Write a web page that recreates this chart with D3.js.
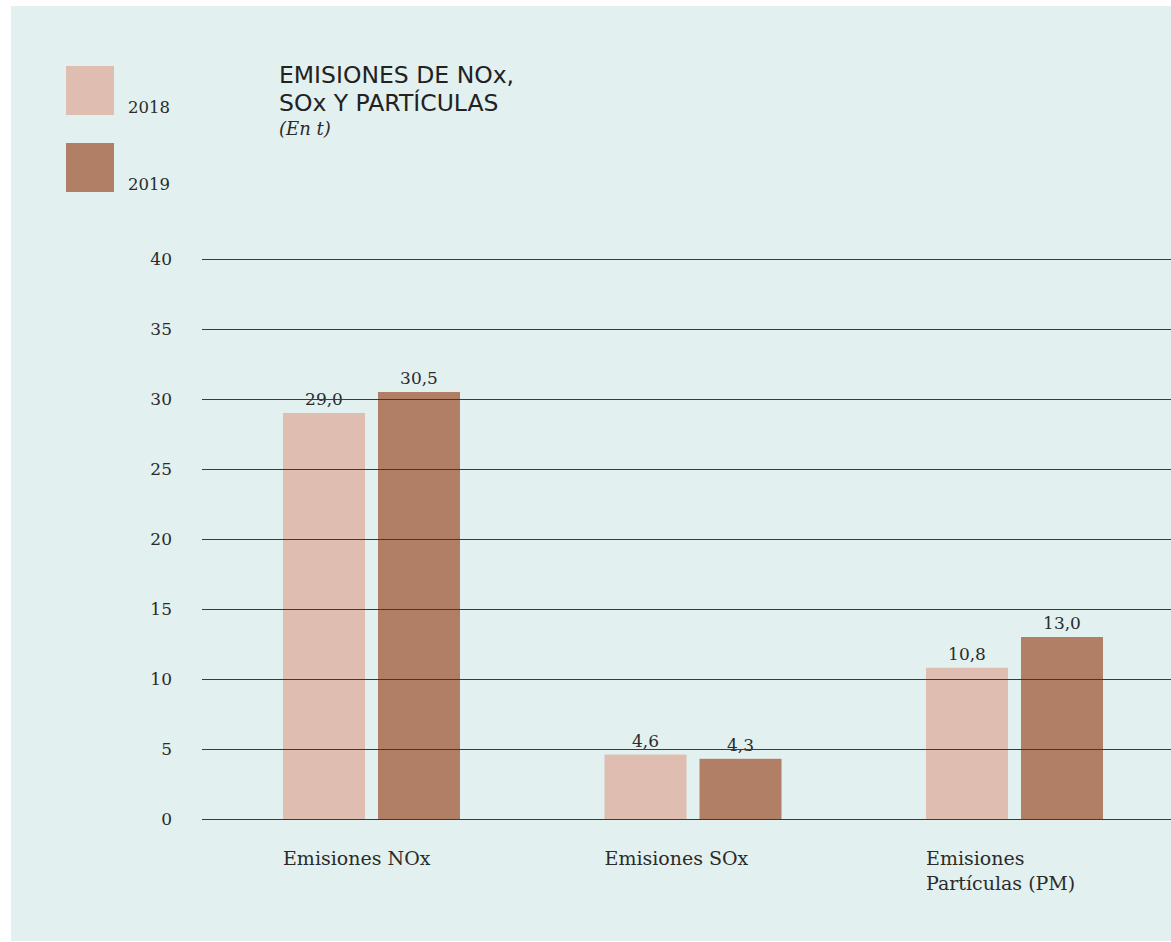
<!DOCTYPE html>
<html>
<head>
<meta charset="utf-8">
<script src="https://cdn.jsdelivr.net/npm/d3@7"></script>
<style>
  html, body { margin: 0; padding: 0; background: #ffffff; }
  svg { display: block; }
  .serif { font-family: "DejaVu Serif", serif; fill: #2b2b2b; }
  .title { font-family: "DejaVu Sans", sans-serif; fill: #222222; }
</style>
</head>
<body>
<svg id="chart" width="1171" height="942"></svg>
<script>
// Emissions in tonnes, by pollutant and year
const categories = ["Emisiones NOx", "Emisiones SOx", "Emisiones Partículas (PM)"];
const categoryLines = [["Emisiones NOx"], ["Emisiones SOx"], ["Emisiones", "Partículas (PM)"]];
const years = ["2018", "2019"];
const values2018 = [29.0, 4.6, 10.8];
const values2019 = [30.5, 4.3, 13.0];
const yTicks = [0, 5, 10, 15, 20, 25, 30, 35, 40];
const yearColors = ["#dfbdb0", "#b07f65"];

const fmt = v => v.toFixed(1).replace(".", ",");

const svg = d3.select("#chart");

// panel background
svg.append("rect")
  .attr("x", 11).attr("y", 6)
  .attr("width", 1160).attr("height", 935)
  .attr("fill", "#e2f0ef");

const plot = { left: 202, right: 1171, top: 259, bottom: 819 };

const y = d3.scaleLinear().domain([0, 40]).range([plot.bottom, plot.top]);

const x0 = d3.scaleBand()
  .domain(categories)
  .range([283, 1103])
  .paddingInner(0.4495)
  .paddingOuter(0);

const x1 = d3.scaleBand()
  .domain(years)
  .range([0, x0.bandwidth()])
  .paddingInner(0.137);

const series = [values2018, values2019];

// bars
const groups = svg.append("g").selectAll("g")
  .data(categories)
  .join("g")
  .attr("transform", d => `translate(${x0(d)},0)`);

groups.selectAll("rect")
  .data((d, i) => years.map((yr, j) => ({ yr, v: series[j][i], j })))
  .join("rect")
  .attr("x", d => x1(d.yr))
  .attr("y", d => y(d.v))
  .attr("width", x1.bandwidth())
  .attr("height", d => y(0) - y(d.v))
  .attr("fill", d => yearColors[d.j]);

// horizontal gridlines + tick labels via axis
const yAxis = d3.axisLeft(y)
  .tickValues(yTicks)
  .tickSize(-(plot.right - plot.left))
  .tickPadding(30)
  .tickFormat(d3.format("d"));

const axisG = svg.append("g")
  .attr("transform", `translate(${plot.left},0)`)
  .call(yAxis);
axisG.select(".domain").remove();
axisG.selectAll(".tick line")
  .attr("stroke", "#3a3a3a")
  .attr("stroke-width", 1);
axisG.selectAll(".tick text")
  .attr("class", "serif")
  .attr("font-size", 17)
  .attr("fill", "#2b2b2b");

// value labels
groups.selectAll("text.val")
  .data((d, i) => years.map((yr, j) => ({ yr, v: series[j][i] })))
  .join("text")
  .attr("class", "val serif")
  .attr("x", d => x1(d.yr) + x1.bandwidth() / 2)
  .attr("y", d => y(d.v) - 8)
  .attr("text-anchor", "middle")
  .attr("font-size", 17)
  .text(d => fmt(d.v));

// category labels
groups.each(function (d, i) {
  const t = d3.select(this).append("text")
    .attr("class", "serif")
    .attr("font-size", 19)
    .attr("x", 0)
    .attr("y", plot.bottom + 46);
  categoryLines[i].forEach((line, k) => {
    t.append("tspan").attr("x", 0).attr("dy", k === 0 ? 0 : 25).text(line);
  });
});

// legend
const legend = svg.append("g");
years.forEach((yr, j) => {
  const ly = 66 + j * 77;
  legend.append("rect")
    .attr("x", 66).attr("y", ly)
    .attr("width", 48).attr("height", 49)
    .attr("fill", yearColors[j]);
  legend.append("text")
    .attr("class", "serif")
    .attr("x", 128).attr("y", ly + 47)
    .attr("font-size", 16.5)
    .text(yr);
});

// title
const title = svg.append("g");
["EMISIONES DE NOx,", "SOx Y PARTÍCULAS"].forEach((line, k) => {
  title.append("text")
    .attr("class", "title")
    .attr("x", 279).attr("y", 83 + k * 28)
    .attr("font-size", 23.5)
    .text(line);
});
title.append("text")
  .attr("class", "serif")
  .attr("x", 279).attr("y", 135)
  .attr("font-size", 18)
  .attr("font-style", "italic")
  .text("(En t)");
</script>
</body>
</html>
